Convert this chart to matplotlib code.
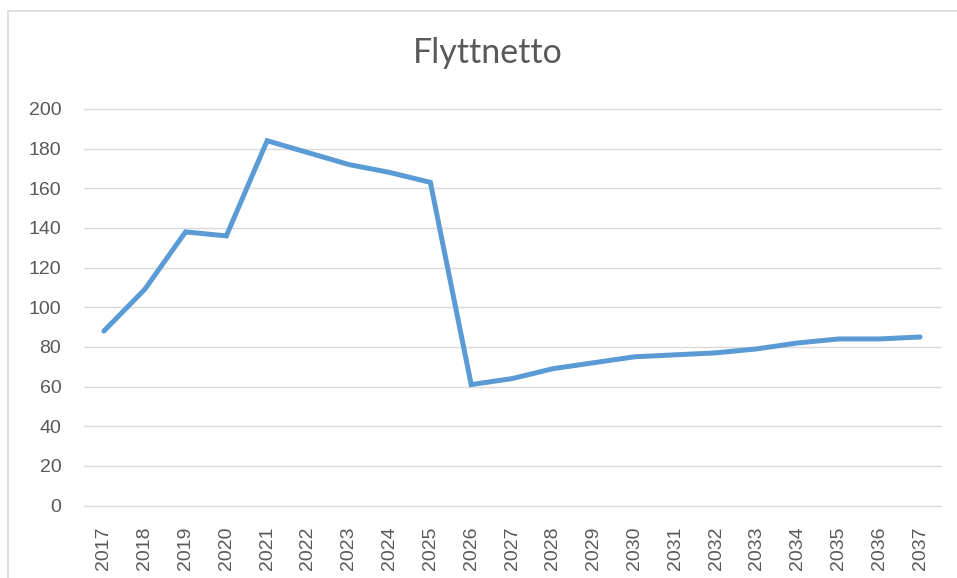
import matplotlib
matplotlib.use("Agg")
import matplotlib.pyplot as plt
from matplotlib.patches import Rectangle

# Data
years = [str(y) for y in range(2017, 2038)]
flyttnetto = [88, 109, 138, 136, 184, 178, 172, 168, 163, 61, 64, 69, 72,
              75, 76, 77, 79, 82, 84, 84, 85]
y_ticks = list(range(0, 201, 20))

line_color = "#5B9BD5"
grid_color = "#D9D9D9"
text_color = "#595959"

fig = plt.figure(figsize=(9.57, 5.78), dpi=100)
fig.patch.set_facecolor("white")

# chart border (only left and top visible in the crop)
fig.add_artist(Rectangle((8 / 957, -0.1), 1.2, 1 - 11 / 578 + 0.1,
                         transform=fig.transFigure, fill=False,
                         edgecolor=grid_color, linewidth=1.2))

ax = fig.add_axes([83.5 / 957, 1 - 505.5 / 578, (940.5 - 83.5) / 957, (505.5 - 109) / 578])
x = list(range(len(years)))
ax.plot(x, flyttnetto, color=line_color, linewidth=3.6, solid_joinstyle="miter",
        solid_capstyle="round", zorder=3)

ax.set_xlim(-0.5, len(years) - 0.5)
ax.set_ylim(0, 200)
ax.set_yticks(y_ticks)
ax.set_xticks(x)
ax.set_xticklabels(years, rotation=90)
ax.grid(axis="y", color=grid_color, linewidth=1.0)
for gl in ax.get_ygridlines():
    gl.set_clip_on(False)
ax.set_axisbelow(True)
for s in ax.spines.values():
    s.set_visible(False)
ax.tick_params(axis="both", length=0, colors=text_color, labelsize=14)
ax.tick_params(axis="y", pad=16)
ax.tick_params(axis="x", pad=15)
for lbl in ax.get_xticklabels() + ax.get_yticklabels():
    lbl.set_family("Liberation Sans")

fig.text(487.5 / 957, 1 - 53 / 578, "Flyttnetto", ha="center", va="center",
         fontsize=24.5, color=text_color, family="Lato")

fig.savefig("out.png", dpi=100, facecolor="white")
